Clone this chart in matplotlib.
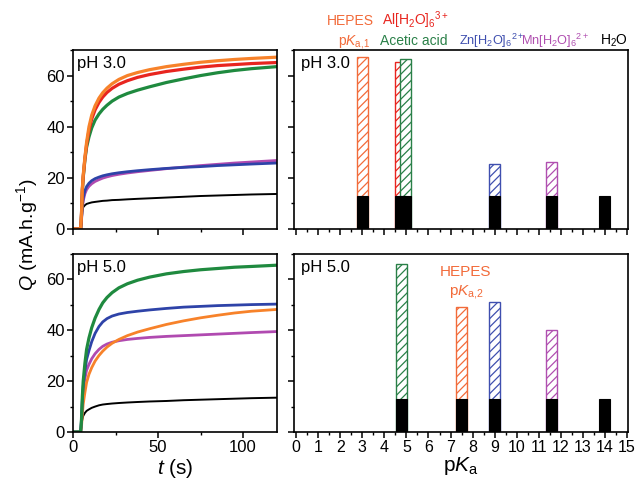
import numpy as np
import matplotlib
matplotlib.use('Agg')
import matplotlib.pyplot as plt
from matplotlib.ticker import MultipleLocator

plt.rcParams['font.family'] = 'Liberation Sans'
plt.rcParams['mathtext.fontset'] = 'custom'
plt.rcParams['mathtext.rm'] = 'Liberation Sans'
plt.rcParams['mathtext.it'] = 'Liberation Sans:italic'
plt.rcParams['axes.linewidth'] = 1.2
plt.rcParams['hatch.linewidth'] = 0.9

# Temps (s)
t = [0, 4.5, 5, 5.5, 6, 7, 8, 9.4, 11, 13, 15.3, 17.5, 20, 23, 27, 32, 38, 45, 55, 65, 75, 85, 95, 105, 120]

# pH 3.0 - capacité (mA.h/g)
q3_orange = [0, 0, 6, 16, 21, 28, 34, 40, 44.5, 48.2, 51.2, 53.3, 55.1, 56.8, 58.5, 60, 61.2, 62.3, 63.5, 64.4, 65.2, 65.8, 66.3, 66.7, 67.2]
q3_red = [0, 0, 6, 15.5, 20.5, 27.5, 33, 38.5, 43, 46.6, 49.5, 51.6, 53.4, 55, 56.6, 58, 59.3, 60.4, 61.6, 62.5, 63.3, 63.9, 64.3, 64.7, 65.1]
q3_green = [0, 0, 5.5, 15, 20, 27, 32, 36, 39.5, 42.6, 45, 46.8, 48.4, 50, 51.6, 53, 54.3, 55.6, 57.3, 58.7, 60, 61.1, 62, 62.7, 63.5]
q3_blue = [0, 0, 4, 9, 12, 15, 16.6, 17.9, 18.9, 19.7, 20.3, 20.8, 21.2, 21.6, 22, 22.4, 22.8, 23.2, 23.7, 24.1, 24.4, 24.8, 25.1, 25.4, 25.8]
q3_purple = [0, 0, 3.5, 8, 11, 13.8, 15.4, 16.7, 17.7, 18.6, 19.3, 19.9, 20.4, 20.9, 21.4, 21.9, 22.4, 22.9, 23.6, 24.2, 24.8, 25.3, 25.8, 26.2, 26.8]
q3_black = [0, 0, 5, 7.5, 8.5, 9.3, 9.8, 10.1, 10.4, 10.6, 10.8, 11, 11.1, 11.3, 11.4, 11.6, 11.8, 12, 12.3, 12.6, 12.9, 13.1, 13.3, 13.5, 13.7]

# pH 5.0
q5_green = [0, 0, 5, 14, 20, 27, 32.5, 37, 41, 44.8, 48.2, 50.8, 52.9, 54.8, 56.7, 58.3, 59.7, 60.9, 62.2, 63.1, 63.8, 64.3, 64.8, 65.1, 65.6]
q5_blue = [0, 0, 5, 13, 18, 24, 28.5, 32, 35.5, 38.8, 41.5, 43.3, 44.6, 45.6, 46.4, 47, 47.5, 48, 48.6, 49.1, 49.4, 49.7, 49.9, 50.1, 50.3]
q5_orange = [0, 0, 2, 7, 11, 15.5, 19.5, 22.7, 25.3, 27.9, 30.1, 31.8, 33.4, 34.9, 36.4, 37.9, 39.3, 40.6, 42.3, 43.7, 44.9, 45.9, 46.8, 47.5, 48.2]
q5_purple = [0, 0, 4, 12, 16.5, 21, 24.3, 26.6, 28.8, 30.8, 32.5, 33.7, 34.6, 35.3, 35.9, 36.4, 36.8, 37.2, 37.6, 37.9, 38.2, 38.5, 38.8, 39.1, 39.5]
q5_black = [0, 0, 3, 5, 6.3, 7.5, 8.3, 8.9, 9.5, 10, 10.5, 10.8, 11, 11.2, 11.4, 11.6, 11.8, 12, 12.2, 12.5, 12.7, 12.9, 13.1, 13.3, 13.5]

# Barres pKa
pka3 = [3.0, 4.75, 4.97, 9.0, 11.6]
cap3 = [67.3, 65.4, 66.3, 25.4, 26.3]
col3 = ['#f26b3a', '#e8251f', '#2a8048', '#3f4faf', '#b04fb0']
pka5 = [4.76, 7.48, 9.0, 11.6]
cap5 = [65.9, 49.0, 51.0, 40.0]
col5 = ['#2a8048', '#f26b3a', '#3f4faf', '#b04fb0']
h2o3 = [3.0, 4.75, 4.97, 9.0, 11.6, 14.0]
h2o5 = [4.76, 7.48, 9.0, 11.6, 14.0]
q_h2o = 13.0

c_orange = '#f7822a'
c_red = '#e8251f'
c_green = '#1f8a3f'
c_blue = '#2e43a8'
c_purple = '#b04ab0'

W, H = 636, 484
fig = plt.figure(figsize=(W / 100, H / 100), dpi=100)

def box(x0, y0, x1, y1):
    return [x0 / W, 1 - y1 / H, (x1 - x0) / W, (y1 - y0) / H]

ax1 = fig.add_axes(box(73, 50, 277, 229))
ax2 = fig.add_axes(box(73, 254, 277, 432))
ax3 = fig.add_axes(box(294, 50, 628, 229))
ax4 = fig.add_axes(box(294, 254, 628, 432))

for q, c, lw in [(q3_black, 'k', 1.4), (q3_purple, c_purple, 2.0), (q3_blue, c_blue, 2.0),
                 (q3_green, c_green, 2.3), (q3_red, c_red, 2.3), (q3_orange, c_orange, 2.3)]:
    ax1.plot(t, q, color=c, lw=lw)
for q, c, lw in [(q5_black, 'k', 1.4), (q5_purple, c_purple, 2.0), (q5_orange, c_orange, 2.0),
                 (q5_blue, c_blue, 2.0), (q5_green, c_green, 2.3)]:
    ax2.plot(t, q, color=c, lw=lw)

for ax in (ax1, ax2):
    ax.set_xlim(0, 120)
    ax.set_ylim(0, 70)
    ax.xaxis.set_major_locator(MultipleLocator(50))
    ax.xaxis.set_minor_locator(MultipleLocator(25))

for ax, px, qv, cl, hx in [(ax3, pka3, cap3, col3, h2o3), (ax4, pka5, cap5, col5, h2o5)]:
    for x, v, c in zip(px, qv, cl):
        ax.bar(x, v, width=0.5, facecolor='white', edgecolor=c, hatch='////', linewidth=1.0)
    ax.bar(hx, [q_h2o] * len(hx), width=0.5, color='k', edgecolor='k', linewidth=0.8)
    ax.set_xlim(-0.1, 15.05)
    ax.set_ylim(0, 70)
    ax.xaxis.set_major_locator(MultipleLocator(1))
    ax.xaxis.set_minor_locator(MultipleLocator(0.5))
    ax.tick_params(labelleft=False)

for ax in (ax1, ax2, ax3, ax4):
    ax.yaxis.set_major_locator(MultipleLocator(20))
    ax.yaxis.set_minor_locator(MultipleLocator(10))
    ax.tick_params(which='major', direction='out', length=4, width=1.1, labelsize=12, pad=2)
    ax.tick_params(which='minor', direction='out', length=2.5, width=1.0)

ax1.tick_params(labelbottom=False)
ax3.tick_params(labelbottom=False)
ax4.tick_params(labelsize=11.5, pad=2)

for ax, lab in [(ax1, 'pH 3.0'), (ax2, 'pH 5.0'), (ax3, 'pH 3.0'), (ax4, 'pH 5.0')]:
    ax.text(0.02, 0.965, lab, transform=ax.transAxes, ha='left', va='top', fontsize=12)

ax2.set_xlabel('$t$ (s)', fontsize=15, labelpad=1)
ax4.set_xlabel('p$K_\\mathrm{a}$', fontsize=15, labelpad=0)
fig.text(27 / W, 1 - 235 / H, '$Q$ (mA.h.g$^{-1}$)', rotation=90, ha='center', va='center', fontsize=14)

ax4.text(7.7, 63, 'HEPES', color='#f26b3a', ha='center', va='center', fontsize=11)
ax4.text(7.75, 55, 'p$K_{\\mathrm{a},\\!2}$', color='#f26b3a', ha='center', va='center', fontsize=11)

def top(x, y, s, c, fs=10):
    fig.text(x / W, 1 - y / H, s, color=c, ha='left', va='baseline', fontsize=fs)

top(327, 25, 'HEPES', '#f26b3a')
top(382, 25, 'Al[H$_2$O]$_6$$^{3+}$', c_red)
top(338, 45, 'p$K_{\\mathrm{a},\\!1}$', '#f26b3a')
top(380, 45, 'Acetic acid', '#2a8048')
top(459, 45, 'Zn[H$_2$O]$_6$$^{2+}$', '#3f4faf', 9.2)
top(521, 45, 'Mn[H$_2$O]$_6$$^{2+}$', '#b04fb0', 9.2)
top(600, 45, 'H$_2$O', 'k')

fig.savefig('out.png', dpi=100)
